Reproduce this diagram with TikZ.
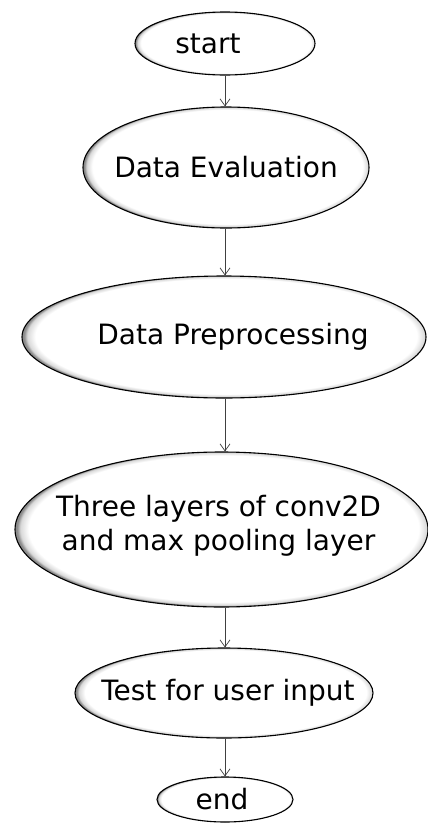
\documentclass[tikz,border=0pt]{standalone}
\usepackage{fontspec}
\setmainfont{DejaVu Sans}
\usetikzlibrary{shapes.geometric,arrows.meta}

% grey rim inside each ellipse, a bit heavier on the lower left
\pgfdeclareradialshading{edgeglow}{\pgfpoint{0.5bp}{0.5bp}}{color(0bp)=(white); color(23.6bp)=(white); color(24.6bp)=(black!15); color(25bp)=(black!45); color(50bp)=(black!45)}

\tikzset{
	stage/.style={ellipse,draw=black,line width=1.1pt,shade,shading=edgeglow,inner sep=0pt},
	flow/.style={->,draw=black!75,line width=0.7pt},
}

\begin{document}
\begin{tikzpicture}[x=1pt,y=-1pt,>={Straight Barb[length=7pt,width=10pt]},font=\fontsize{28}{34}\selectfont]
\useasboundingbox (0,0) rectangle (428,825);
\node[stage,minimum width=180,minimum height=63,label={[xshift=-17pt]center:start}] (start) at (225,43.5) {};
\node[stage,minimum width=286,minimum height=121,label={center:Data Evaluation}] (eval) at (226,167.5) {};
\node[stage,minimum width=404,minimum height=122,label={[xshift=9pt]center:Data Preprocessing}] (prep) at (224,337) {};
\node[stage,minimum width=413,minimum height=155,label={[align=center,yshift=4pt,xshift=-3pt]center:Three layers of conv2D\\and max pooling layer}] (conv) at (221.5,529.5) {};
\node[stage,minimum width=298,minimum height=90,label={[xshift=4pt]center:Test for user input}] (test) at (224,693) {};
\node[stage,minimum width=136,minimum height=45,label={[xshift=-3pt]center:end}] (stop) at (225,799.5) {};
% arrows between the stages, all on one vertical
\foreach \a/\b in {start/eval,eval/prep,prep/conv,conv/test,test/stop}{
	\draw[flow] (\a.south -| start) -- (\b.north -| start);
}
\end{tikzpicture}
\end{document}
